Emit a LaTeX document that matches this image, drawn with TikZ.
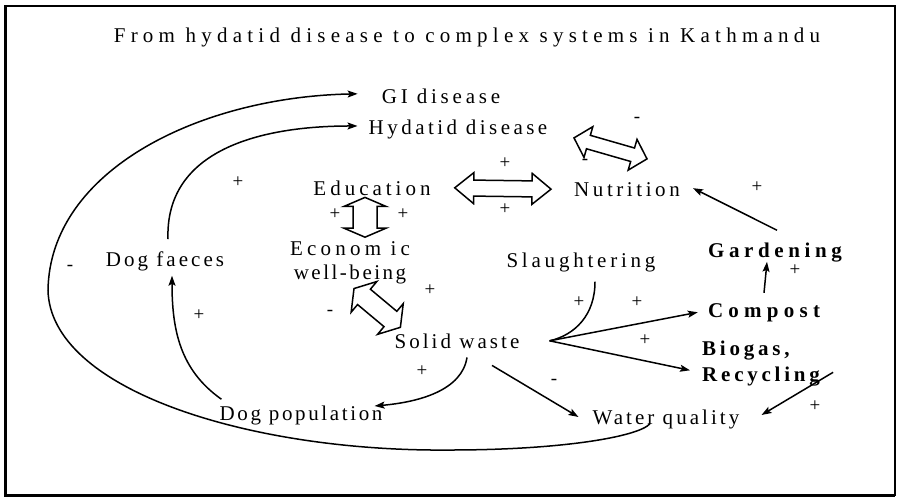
\documentclass[tikz,border=0pt]{standalone}
\usepackage{fontspec}
\setmainfont{Liberation Serif}
\usetikzlibrary{arrows.meta,calc}

% letter-spaced text at a given size
\newcommand\spaced[2]{\fontsize{#1}{24}\selectfont\addfontfeature{LetterSpace=#2}}

% hollow double-headed arrow between two tips:
% #1 tip A, #2 tip B, #3 head length, #4 head half-width, #5 shaft half-width
\newcommand\hollowdbl[5]{%
  \coordinate (hA) at ($(#1)!#3!(#2)$);
  \coordinate (hB) at ($(#2)!#3!(#1)$);
  \draw[hollow] (#1)
    -- ($(hA)!#4!90:(#2)$) -- ($(hA)!#5!90:(#2)$)
    -- ($(hB)!#5!-90:(#1)$) -- ($(hB)!#4!-90:(#1)$)
    -- (#2)
    -- ($(hB)!#4!90:(#1)$) -- ($(hB)!#5!90:(#1)$)
    -- ($(hA)!#5!-90:(#2)$) -- ($(hA)!#4!-90:(#2)$)
    -- cycle;}

\tikzset{
  txt/.style={inner sep=0pt, anchor=base, font=\spaced{21}{#1}},
  txt/.default=16,
  btxt/.style={inner sep=0pt, anchor=base, font=\bfseries\spaced{21}{#1}},
  btxt/.default=20,
  sign/.style={inner sep=0pt, font=\fontsize{19}{19}\selectfont},
  link/.style={line width=1.5pt, -{Stealth[length=10pt,width=7pt,inset=2pt]}},
  plainlink/.style={line width=1.5pt},
  hollow/.style={line width=1.5pt, line join=miter, fill=white},
}

\begin{document}
\begin{tikzpicture}[x=1pt,y=-1pt]
  \useasboundingbox (0,0) rectangle (900,499);
  \fill[white] (0,0) rectangle (900,499);

  % frame
  \draw[line width=2pt] (5,6) rectangle (895,495);
  \draw[line width=3pt] (5,6) -- (5,495) -- (895,495);

  % title
  \node[txt, font=\spaced{21}{25}] (title) at (467,42)
    {From hydatid disease to complex systems in Kathmandu};

  % factors
  \node[txt=18] (gi)    at (441,103) {GI disease};
  \node[txt=16.5] (hyd) at (458,134) {Hydatid disease};
  \node[txt=19] (edu)   at (372,195) {Education};
  \node[inner sep=0pt, anchor=north, align=center, font=\spaced{21}{20}] (eco) at (350,241.7)
    {Econom ic\\[-0.5pt]\addfontfeature{LetterSpace=12}well-being};
  \node[txt=14.5] (dogf) at (165,266) {Dog faeces};
  \node[txt=17] (nut)   at (627,196) {Nutrition};
  \node[txt=18] (sla)   at (581,267) {Slaughtering};
  \node[btxt=22] (gard) at (775,257) {Gardening};
  \node[btxt=25] (comp) at (764,317) {Compost};
  \node[inner sep=0pt, anchor=north west, align=left, font=\bfseries\spaced{21}{18}] (bio)
    at (702,340.5) {Biogas,\\[2pt]Recycling};
  \node[txt=14.5] (solid) at (457,348) {Solid waste};
  \node[txt=14.5] (water) at (666,424) {Water quality};
  \node[txt=12.5] (dogp)  at (301,420) {Dog population};

  % junction where the waste streams split
  \coordinate (hub) at ([xshift=30pt]solid.east);

  % causal links
  \draw[link] ([xshift=-16pt,yshift=5pt]water.south)
    .. controls (638,437) and (560,450) .. (450,450)
    .. controls (250,452) and (50,390) .. (48,290)
    .. controls (50,170) and (200,97) .. ([xshift=-24pt,yshift=2pt]gi.west);
  \draw[link] ([xshift=3pt,yshift=12pt]dogf.north)
    .. controls (165,150) and (260,126) .. ([xshift=-11pt,yshift=3pt]hyd.west);
  \draw[link] ([xshift=2pt,yshift=6pt]dogp.north west)
    .. controls (180,370) and (172,330) .. ([xshift=7pt,yshift=-5pt]dogf.south);
  \draw[link] ([xshift=10pt,yshift=-9pt]solid.south)
    .. controls (462,390) and (420,402) .. ([xshift=-8pt,yshift=9pt]dogp.east);
  \draw[link] ([xshift=35pt,yshift=-17pt]solid.south) -- ([xshift=-14pt,yshift=2pt]water.west);
  \draw[plainlink] ([xshift=14pt,yshift=-10pt]sla.south)
    .. controls (595,315) and (575,335) .. (hub);
  \draw[link] (hub) -- ([xshift=-10pt]comp.west);
  \draw[link] (hub) -- ([xshift=-12pt,yshift=-7pt]bio.west);
  \draw[link] ([yshift=10pt]comp.north) -- ([xshift=-8pt]gard.south);
  \draw[link] ([xshift=2pt,yshift=12pt]gard.north) -- ([xshift=13pt,yshift=1pt]nut.east);
  \draw[link] ([xshift=13pt,yshift=-9pt]bio.east) -- ([xshift=22pt,yshift=4pt]water.east);

  % two-way hollow arrows
  \coordinate (en1) at ([xshift=24pt]edu.east);
  \coordinate (en2) at ([xshift=-23pt]nut.west);
  \hollowdbl{en1}{en2}{19pt}{15.5pt}{8pt}
  \coordinate (ee1) at ([xshift=-7pt,yshift=-2pt]edu.south);
  \coordinate (ee2) at ([xshift=15pt,yshift=4.5pt]eco.north);
  \hollowdbl{ee1}{ee2}{9pt}{21pt}{12pt}
  \coordinate (es1) at ([xshift=4pt,yshift=-4.5pt]eco.south);
  \coordinate (es2) at ([xshift=6pt,yshift=13.5pt]solid.west);
  \hollowdbl{es1}{es2}{13pt}{20pt}{10pt}
  \coordinate (nn1) at ([xshift=-53pt,yshift=44pt]nut.north);
  \coordinate (nn2) at ([xshift=20pt,yshift=23pt]nut.north);
  \hollowdbl{nn1}{nn2}{15pt}{16pt}{7pt}

  % polarity signs
  \node[sign] (s1)  at (238,182) {+};
  \node[sign] (s2)  at (70,268)  {-};
  \node[sign] (s3)  at (199,315) {+};
  \node[sign] (s4)  at (422,371) {+};
  \node[sign] (s5)  at (554,382) {-};
  \node[sign] (s6)  at (579,302) {+};
  \node[sign] (s7)  at (637,302) {+};
  \node[sign] (s8)  at (645,340) {+};
  \node[sign] (s9)  at (795,270) {+};
  \node[sign] (s10) at (757,187) {+};
  \node[sign] (s11) at (815,406) {+};
  \node[sign] (s12) at (505,163) {+};
  \node[sign] (s13) at (505,209) {+};
  \node[sign] (s14) at (335,214) {+};
  \node[sign] (s15) at (403,214) {+};
  \node[sign] (s16) at (330,313) {-};
  \node[sign] (s17) at (430,290) {+};
  \node[sign] (s18) at (637,120) {-};
  \node[sign] (s19) at (585,162) {-};
\end{tikzpicture}
\end{document}
